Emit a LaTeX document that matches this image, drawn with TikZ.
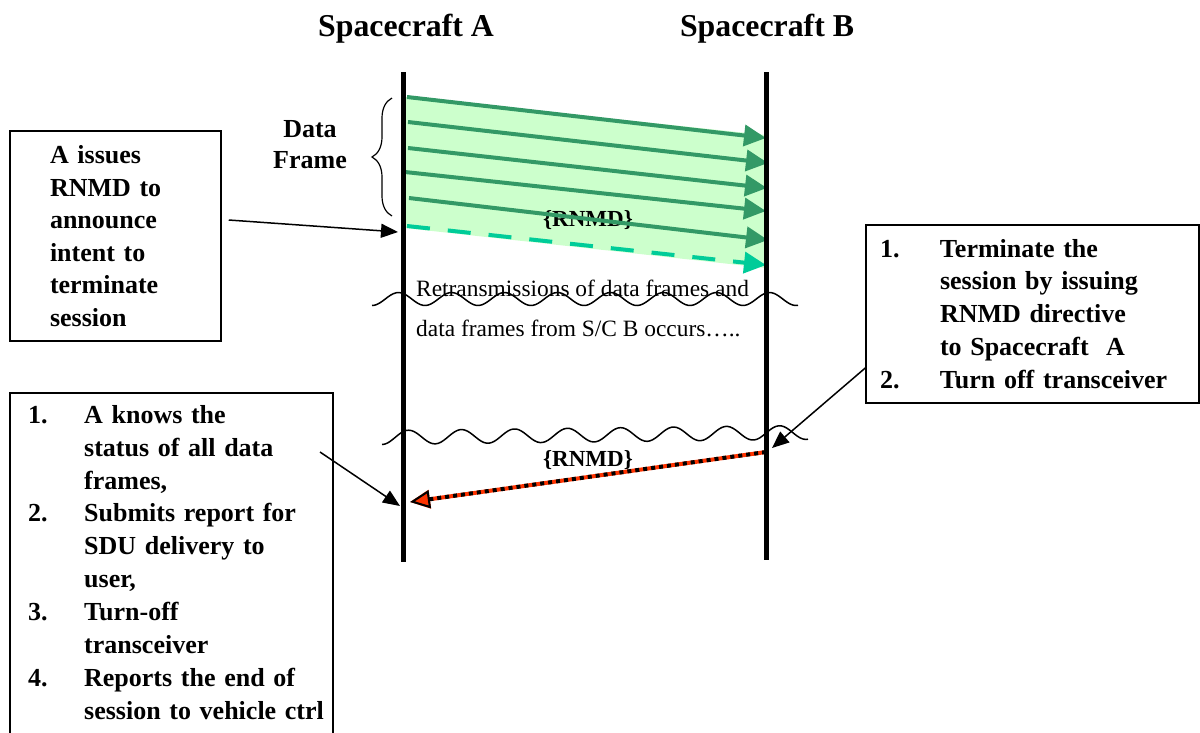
\documentclass[tikz,border=0pt]{standalone}
\usepackage{fontspec}
\setmainfont{Liberation Serif}
\usetikzlibrary{arrows.meta,decorations.pathreplacing}
\definecolor{fillg}{RGB}{204,255,204}
\definecolor{arrg}{RGB}{51,153,102}
\definecolor{tealg}{RGB}{0,204,153}
\definecolor{redc}{RGB}{255,51,0}
\begin{document}
\begin{tikzpicture}[x=1pt,y=-1pt,
  titlef/.style={font=\bfseries\fontsize{31.8}{38}\selectfont, inner sep=0pt},
  boxf/.style={font=\bfseries\fontsize{26}{32.9}\selectfont, align=left},
  lifeline/.style={line width=5pt, black},
  garr/.style={draw=arrg, line width=4pt, -{Triangle[length=22pt,width=21pt]}},
  tarr/.style={draw=tealg, line width=4pt, dash pattern=on 23pt off 18pt, -{Triangle[length=22pt,width=21pt]}},
  barr/.style={draw=black, line width=1.5pt, -{Triangle[length=17pt,width=14pt]}},
  wave/.style={draw=black, line width=1.5pt, line join=round},
  rnmd/.style={font=\bfseries\fontsize{23}{28}\selectfont, inner sep=0pt}
]
\useasboundingbox (0,0) rectangle (1200,732);

% titles
\node[titlef] (tA) at (406,29) {Spacecraft A};
\node[titlef] (tB) at (767,29) {Spacecraft B};

% lifeline coordinates
\coordinate (Atop) at (403,72);
\coordinate (Abot) at (403,562);
\coordinate (Btop) at (766,72);
\coordinate (Bbot) at (766,560);

% green band
\fill[fillg] (405,97) -- (766,135) -- (766,268) -- (405,228) -- cycle;

% data frame arrows
\coordinate (g1s) at (407,97);  \coordinate (g1e) at (766,138);
\coordinate (g2s) at (408,122); \coordinate (g2e) at (768,163);
\coordinate (g3s) at (408,148); \coordinate (g3e) at (767,188);
\coordinate (g4s) at (405,172); \coordinate (g4e) at (766,211);
\coordinate (g5s) at (409,198); \coordinate (g5e) at (768,240);
\coordinate (g6s) at (407,226); \coordinate (g6e) at (766,265);
\draw[garr] (g1s) -- (g1e);
\draw[garr] (g2s) -- (g2e);
\draw[garr] (g3s) -- (g3e);
\draw[garr] (g4s) -- (g4e);
\node[rnmd] (rnmd1) at (588,220) {\{RNMD\}};
\draw[garr] (g5s) -- (g5e);
\draw[tarr] (g6s) -- (g6e);

% brace
\coordinate (brb) at (392,216);
\coordinate (brt) at (392,98);
\draw[line width=1.2pt, decorate, decoration={brace, amplitude=20pt}] (brb) -- (brt);
\node[boxf, align=center, inner sep=0pt, font=\bfseries\fontsize{26}{31}\selectfont] (df) at (310,145) {Data\\Frame};

% wavy lines
\draw[wave] plot[domain=0:426, samples=160, smooth] ({372+\x}, {299 + 6.5*cos(6.7925*\x)});
\draw[wave] plot[domain=0:426, samples=160, smooth] ({382+\x}, {437.5 - 0.012*\x + 7*cos(6.7925*\x)});

\node[anchor=west, align=left, inner sep=0pt, font=\fontsize{23.4}{40}\selectfont] (retx) at (416,308)
  {Retransmissions of data frames and\\data frames from S/C B occurs\ldots..};

% red RNMD arrow
\coordinate (rs) at (766,452);
\coordinate (re) at (410,502);
\node[rnmd] (rnmd2) at (588,460) {\{RNMD\}};
\draw[redc, line width=4pt, -{Triangle[length=20pt,width=18pt]}] (rs) -- (re);
\draw[black, line width=4pt, dash pattern=on 4pt off 4pt, -{Triangle[length=20pt,width=18pt,open,line width=2pt]}] (rs) -- (re);

% lifelines
\draw[lifeline] (Atop) -- (Abot);
\draw[lifeline] (Btop) -- (Bbot);

% box 1
\node[draw, line width=1.5pt, boxf, minimum width=211pt, minimum height=210pt, text width=131pt, inner sep=0pt, font=\bfseries\fontsize{26}{32.5}\selectfont] (box1) at (115.5,236)
  {A issues\\RNMD to\\announce\\intent to\\terminate\\session};
\coordinate (a1e) at (398,232);
\draw[barr] ([xshift=7pt,yshift=16pt]box1.east) -- (a1e);

% box 3 (right)
\node[draw, line width=1.5pt, boxf, minimum width=333pt, minimum height=178pt, text width=305pt, inner sep=0pt] (box3) at (1032.5,314)
  {\makebox[60pt][l]{1.}Terminate the\\
   \hspace*{60pt}session by issuing\\
   \hspace*{60pt}RNMD directive\\
   \hspace*{60pt}to Spacecraft\ \ A\\
   \makebox[60pt][l]{2.}Turn off transceiver};
\coordinate (a3e) at (772,448);
\draw[barr] ([yshift=-54pt]box3.west) -- (a3e);

% box 2 (bottom left)
\draw[line width=1.5pt] (10,745) |- (333,393) -- (333,745);
\node[boxf, anchor=north west, inner sep=0pt, text width=300pt] (box2) at (28,405)
  {\makebox[56pt][l]{1.}A knows the\\
   \hspace*{56pt}status of all data\\
   \hspace*{56pt}frames,\\
   \makebox[56pt][l]{2.}Submits report for\\
   \hspace*{56pt}SDU delivery to\\
   \hspace*{56pt}user,\\
   \makebox[56pt][l]{3.}Turn-off\\
   \hspace*{56pt}transceiver\\
   \makebox[56pt][l]{4.}Reports the end of\\
   \hspace*{56pt}session to vehicle ctrl};
\coordinate (a2s) at (320,452);
\coordinate (a2e) at (400,506);
\draw[barr] (a2s) -- (a2e);
\end{tikzpicture}
\end{document}
